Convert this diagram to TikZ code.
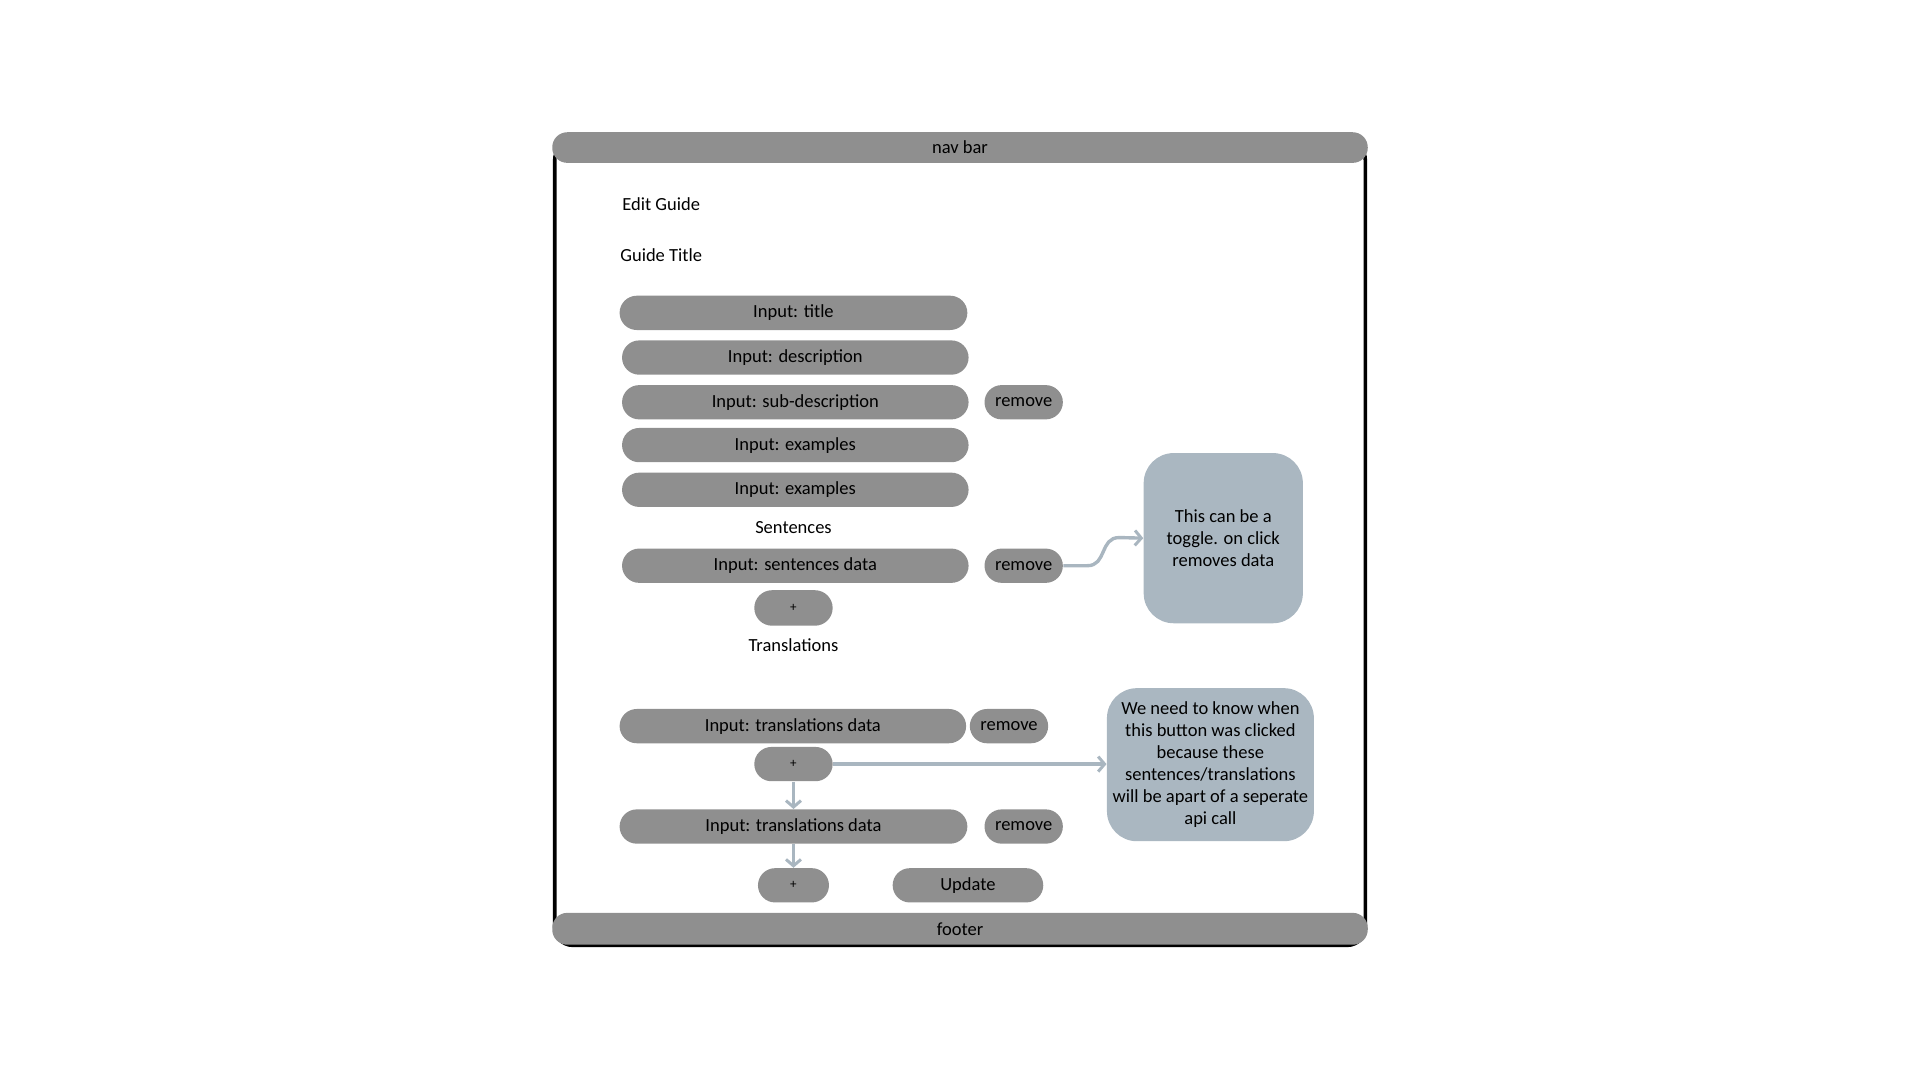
\documentclass[tikz,border=0pt]{standalone}
\usepackage{fontspec}
\setmainfont{Carlito}
\usetikzlibrary{shapes.misc,arrows.meta}
\definecolor{boxgray}{HTML}{8F8F8F}
\definecolor{notecol}{HTML}{AAB7C1}
\definecolor{arrcol}{HTML}{A9B6C0}
\newcommand{\myfont}{\fontsize{9.25pt}{11pt}\selectfont}
\tikzset{
  pill/.style={rounded rectangle, fill=boxgray, inner sep=0pt, minimum height=28*0.6122pt,
    font=\myfont},
  bar/.style={rectangle, rounded corners=7.5pt, fill=boxgray, inner sep=0pt,
    minimum width=666*0.6122pt, font=\myfont},
  notebox/.style={rectangle, rounded corners=15pt, fill=notecol, inner sep=0pt, align=center,
    font=\myfont},
  lbl/.style={inner sep=0pt, font=\myfont},
  arr/.style={draw=arrcol, line width=1.7pt, -{Straight Barb[length=3.2pt,width=7.5pt,line width=1.5pt]}}
}
\begin{document}
\begin{tikzpicture}[x=0.6122pt,y=-0.6122pt]
\useasboundingbox (0,0) rectangle (1568,882);
% frame
\draw[line width=1.8pt, rounded corners=9pt] (453,116) rectangle (1115,772);
\node[bar, minimum height=25*0.6122pt] (nav) at (784,120.5) {nav bar};
\node[bar, minimum height=26*0.6122pt] (footer) at (784,758.5) {footer};
% labels
\node[lbl] (edit) at (540,167) {Edit Guide};
\node[lbl] (gtitle) at (540,208) {Guide Title};
% inputs
\node[pill, minimum width=284*0.6122pt] (title) at (648,255.5) {Input: title};
\node[pill, minimum width=283*0.6122pt] (desc) at (649.5,292) {Input: description};
\node[pill, minimum width=283*0.6122pt] (subdesc) at (649.5,328.5) {Input: sub-description};
\node[pill, minimum width=64*0.6122pt] (rem1) at (836,328.5) {remove};
\node[pill, minimum width=283*0.6122pt] (ex1) at (649.5,363.5) {Input: examples};
\node[pill, minimum width=283*0.6122pt] (ex2) at (649.5,400) {Input: examples};
\node[lbl] (sentl) at (648,431) {Sentences};
\node[pill, minimum width=283*0.6122pt] (sent) at (649.5,462) {Input: sentences data};
\node[pill, minimum width=64*0.6122pt] (rem2) at (836,462) {remove};
\node[pill, minimum width=64*0.6122pt, minimum height=29*0.6122pt] (plus1) at (648,496.5) {\fontsize{6.5pt}{7pt}\selectfont +};
\node[lbl] (transl) at (648,527) {Translations};
\node[pill, minimum width=283*0.6122pt] (tr1) at (647.5,593) {Input: translations data};
\node[pill, minimum width=64*0.6122pt] (rem3) at (824,593) {remove};
\node[pill, minimum width=64*0.6122pt] (plus2) at (648,624) {\fontsize{6.5pt}{7pt}\selectfont +};
\node[pill, minimum width=284*0.6122pt] (tr2) at (648,675) {Input: translations data};
\node[pill, minimum width=64*0.6122pt] (rem4) at (836,675) {remove};
\node[pill, minimum width=58*0.6122pt] (plus3) at (648,723) {\fontsize{6.5pt}{7pt}\selectfont +};
\node[pill, minimum width=123*0.6122pt] (update) at (790.5,723) {Update};
% notes
\node[notebox, minimum width=130*0.6122pt, minimum height=139*0.6122pt] (note1) at (999,439.5)
  {This can be a\\toggle. on click\\removes data};
\node[notebox, minimum width=169*0.6122pt, minimum height=125*0.6122pt] (note2) at (988.5,624.5)
  {We need to know when\\this button was clicked\\because these\\sentences/translations\\will be apart of a seperate\\api call};
% connectors
\coordinate (c1) at (888,462);
\coordinate (c2) at (914,439);
\draw[arr] (rem2.east) -- (c1) .. controls (904,462) and (898,439) .. (c2) -- (note1.west);
\draw[arr] (plus2.east) -- (note2.west |- plus2.east);
\draw[arr] (plus2.south) -- (tr2.north);
\draw[arr] (tr2.south) -- (plus3.north);
\end{tikzpicture}
\end{document}
